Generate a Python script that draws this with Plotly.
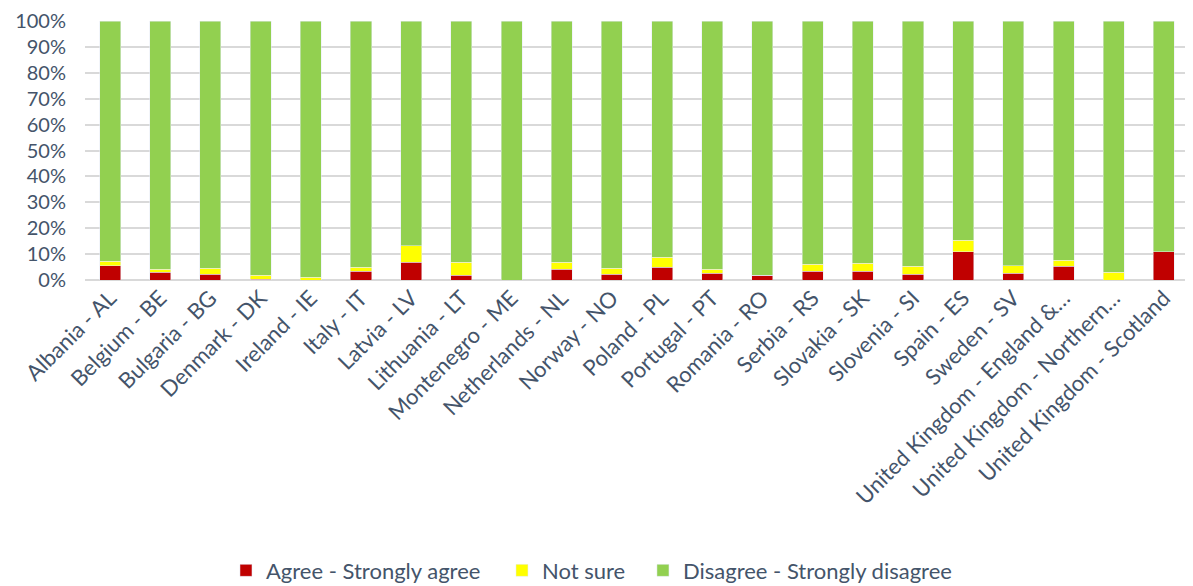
import plotly.graph_objects as go

countries = ["Albania - AL", "Belgium - BE", "Bulgaria - BG", "Denmark - DK", "Ireland - IE",
             "Italy - IT", "Latvia - LV", "Lithuania - LT", "Montenegro - ME", "Netherlands - NL",
             "Norway - NO", "Poland - PL", "Portugal - PT", "Romania - RO", "Serbia - RS",
             "Slovakia - SK", "Slovenia - SI", "Spain - ES", "Sweden - SV",
             "United Kingdom - England &…", "United Kingdom - Northern…",
             "United Kingdom - Scotland"]

agree = [5.6, 2.9, 2.2, 0.3, 0.0, 3.3, 6.8, 1.8, 0.0, 4.1, 2.2, 4.9, 2.6, 1.8,
         3.3, 3.3, 2.2, 11.0, 2.6, 5.3, 0.0, 11.0]
not_sure = [1.6, 1.2, 2.3, 1.5, 1.0, 1.6, 6.5, 5.0, 0.0, 2.7, 2.3, 3.8, 1.5, 0.0,
            2.7, 3.1, 3.1, 4.3, 3.0, 2.3, 2.9, 0.0]
disagree = [round(100 - a - n, 1) for a, n in zip(agree, not_sure)]

txt = "#44546A"
font = "Lato, 'Open Sans', sans-serif"

fig = go.Figure()
fig.add_trace(go.Bar(x=countries, y=agree, name="Agree - Strongly agree",
                     marker_color="#C00000", legend="legend"))
fig.add_trace(go.Bar(x=countries, y=not_sure, name="Not sure",
                     marker_color="#FFFF00", legend="legend2"))
fig.add_trace(go.Bar(x=countries, y=disagree, name="Disagree - Strongly disagree",
                     marker_color="#92D050", legend="legend3"))
fig.update_traces(showlegend=True)

leg = dict(orientation="h", xanchor="left", yref="container", y=0.04, yanchor="middle",
           font=dict(size=22, color=txt), itemwidth=30, bgcolor="rgba(0,0,0,0)")

fig.update_layout(
    barmode="stack",
    bargap=0.58,
    showlegend=True,
    width=1193, height=586,
    margin=dict(l=77, r=12, t=13, b=314),
    plot_bgcolor="white", paper_bgcolor="white",
    font=dict(family=font, size=22, color=txt),
    legend=dict(leg, x=0.1277),
    legend2=dict(leg, x=0.3777),
    legend3=dict(leg, x=0.5054),
)
fig.update_xaxes(tickangle=-45, automargin=False, showline=False, ticks="",
                 tickfont=dict(size=22, color=txt))
fig.update_yaxes(range=[0, 100], dtick=10, ticksuffix="%", automargin=False,
                 gridcolor="#D9D9D9", gridwidth=1.5, zeroline=True, zerolinecolor="#D9D9D9",
                 zerolinewidth=1.5, tickfont=dict(size=20, color=txt), ticklabelstandoff=18,
                 ticklabeloverflow="allow")

fig.write_html("out.html")
